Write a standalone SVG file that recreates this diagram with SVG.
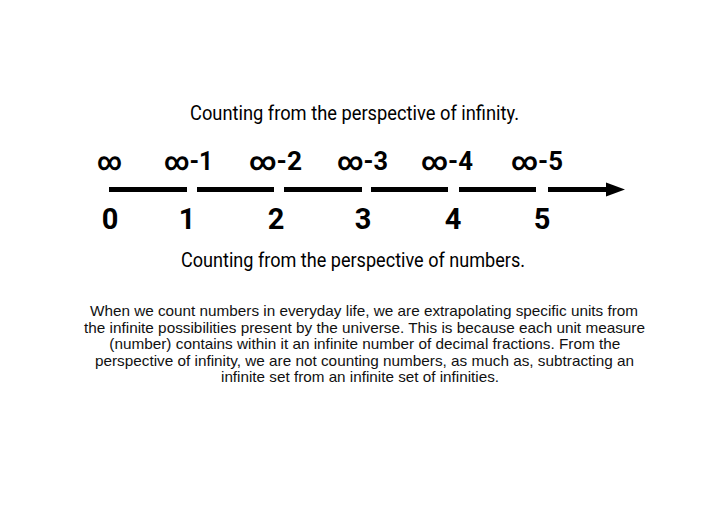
<svg xmlns="http://www.w3.org/2000/svg" width="720" height="509" viewBox="0 0 720 509">
<style>
.h{font-family:Roboto,"Liberation Sans",sans-serif;font-size:20px;fill:#000}
.t{font-family:Roboto,"Liberation Sans",sans-serif;font-weight:bold;font-size:25px;fill:#000}
.n{font-family:Roboto,"Liberation Sans",sans-serif;font-weight:bold;font-size:29px;fill:#000;text-anchor:middle}
.p{font-family:"Liberation Sans",Arial,sans-serif;font-size:14.8px;fill:#111}
.seg{stroke:#000;stroke-width:5;fill:none}
</style>
<rect width="720" height="509" fill="#fff"/>
<g id="title-top"><text class="h" x="190" y="120" textLength="329" lengthAdjust="spacingAndGlyphs">Counting from the perspective of infinity.</text></g>
<g id="infinity-labels">
<text class="t" x="97" y="169.5" textLength="25" lengthAdjust="spacingAndGlyphs">∞</text>
<text class="t" x="164" y="169.5" textLength="49" lengthAdjust="spacingAndGlyphs">∞-1</text>
<text class="t" x="249" y="169.5" textLength="53" lengthAdjust="spacingAndGlyphs">∞-2</text>
<text class="t" x="337" y="169.5" textLength="51" lengthAdjust="spacingAndGlyphs">∞-3</text>
<text class="t" x="421" y="169.5" textLength="52" lengthAdjust="spacingAndGlyphs">∞-4</text>
<text class="t" x="511" y="169.5" textLength="52" lengthAdjust="spacingAndGlyphs">∞-5</text>
</g>
<g id="connectors">
<line class="seg" x1="109" y1="189.5" x2="187" y2="189.5"/>
<line class="seg" x1="197" y1="189.5" x2="274" y2="189.5"/>
<line class="seg" x1="284" y1="189.5" x2="362" y2="189.5"/>
<line class="seg" x1="371" y1="189.5" x2="448" y2="189.5"/>
<line class="seg" x1="459" y1="189.5" x2="536" y2="189.5"/>
<line class="seg" x1="548" y1="189.5" x2="608" y2="189.5"/>
<polygon points="606,182.5 625,189.5 606,196.5" fill="#000"/>
</g>
<g id="number-labels">
<text class="n" x="110" y="229">0</text>
<text class="n" x="187" y="229">1</text>
<text class="n" x="276" y="229">2</text>
<text class="n" x="363" y="229">3</text>
<text class="n" x="453" y="229">4</text>
<text class="n" x="542" y="229">5</text>
</g>
<g id="title-bottom"><text class="h" x="181" y="267" textLength="344" lengthAdjust="spacingAndGlyphs">Counting from the perspective of numbers.</text></g>
<g id="paragraph">
<text class="p" x="90" y="316" textLength="548" lengthAdjust="spacingAndGlyphs">When we count numbers in everyday life, we are extrapolating specific units from</text>
<text class="p" x="84" y="332.6" textLength="561" lengthAdjust="spacingAndGlyphs">the infinite possibilities present by the universe. This is because each unit measure</text>
<text class="p" x="109.3" y="349.2" textLength="511" lengthAdjust="spacingAndGlyphs">(number) contains within it an infinite number of decimal fractions. From the</text>
<text class="p" x="95" y="365.8" textLength="539" lengthAdjust="spacingAndGlyphs">perspective of infinity, we are not counting numbers, as much as, subtracting an</text>
<text class="p" x="221" y="382.4" textLength="278" lengthAdjust="spacingAndGlyphs">infinite set from an infinite set of infinities.</text>
</g>
</svg>
